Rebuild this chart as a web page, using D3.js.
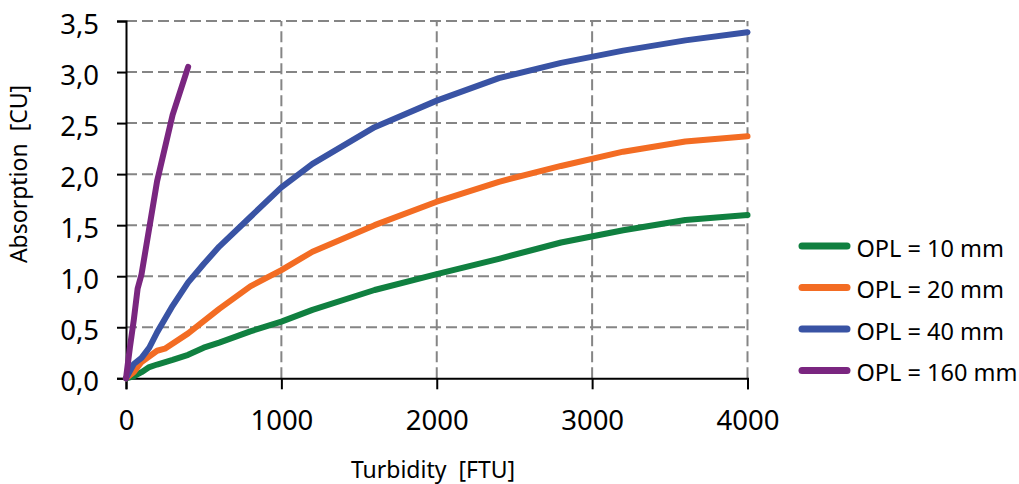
<!DOCTYPE html>
<html>
<head>
<meta charset="utf-8">
<script src="https://cdn.jsdelivr.net/npm/d3@7"></script>
<style>
  body { margin: 0; background: #fff; }
  svg { display: block; }
</style>
</head>
<body>
<div id="chart"></div>
<script>
var fontFamily = "'Noto Sans', 'DejaVu Sans', sans-serif";
var gridColor = "#858585";

// turbidity [FTU] / absorption [CU]
var opl10x = [0, 50, 100, 150, 200, 300, 400, 500, 600, 800, 1000, 1200, 1600, 2000, 2400, 2800, 3200, 3600, 4000];
var opl10y = [0, 0.02, 0.06, 0.11, 0.135, 0.18, 0.23, 0.30, 0.35, 0.46, 0.555, 0.67, 0.865, 1.02, 1.17, 1.33, 1.45, 1.55, 1.60];

var opl20x = [0, 50, 100, 200, 250, 400, 600, 800, 1000, 1200, 1600, 2000, 2400, 2800, 3200, 3600, 4000];
var opl20y = [0, 0.06, 0.16, 0.27, 0.29, 0.44, 0.68, 0.90, 1.06, 1.24, 1.50, 1.73, 1.925, 2.08, 2.22, 2.32, 2.37];

var opl40x = [0, 50, 100, 150, 200, 300, 400, 500, 600, 800, 1000, 1200, 1600, 2000, 2400, 2800, 3200, 3600, 4000];
var opl40y = [0, 0.14, 0.20, 0.30, 0.45, 0.71, 0.94, 1.12, 1.29, 1.58, 1.87, 2.10, 2.46, 2.72, 2.94, 3.09, 3.21, 3.31, 3.39];

var opl160x = [0, 25, 50, 75, 100, 200, 300, 400];
var opl160y = [0, 0.30, 0.57, 0.88, 1.02, 1.93, 2.58, 3.05];

var seriesNames = ["OPL = 10 mm", "OPL = 20 mm", "OPL = 40 mm", "OPL = 160 mm"];
var seriesColors = ["#108040", "#f36c23", "#3953a4", "#7a2680"];

var xTicks = [0, 1000, 2000, 3000, 4000];
var yTicks = [0, 0.5, 1, 1.5, 2, 2.5, 3, 3.5];

var width = 1019, height = 484;
var plotLeft = 126, plotRight = 747.5, plotTop = 21, plotBottom = 378.3;

var svg = d3.select("#chart").append("svg")
  .attr("width", width)
  .attr("height", height);

var x = d3.scaleLinear().domain([0, 4000]).range([plotLeft, plotRight]);
var y = d3.scaleLinear().domain([0, 3.5]).range([plotBottom, plotTop]);

function zip(xs, ys) {
  return xs.map(function(v, i) { return [v, ys[i]]; });
}
var series = [zip(opl10x, opl10y), zip(opl20x, opl20y), zip(opl40x, opl40y), zip(opl160x, opl160y)];

function textAttr(selection, size) {
  selection
    .attr("font-family", fontFamily)
    .attr("font-size", size)
    .attr("fill", "#000");
}

function gridAttr(selection) {
  selection
    .attr("stroke", gridColor)
    .attr("stroke-width", 2)
    .attr("stroke-dasharray", "11,5");
}

// grid lines
svg.append("g").selectAll("line.h")
  .data(yTicks.filter(function(t) { return t > 0; }))
  .enter().append("line")
  .attr("class", "h")
  .attr("x1", plotLeft).attr("x2", plotRight)
  .attr("y1", d => y(d)).attr("y2", d => y(d))
  .call(gridAttr);

svg.append("g").selectAll("line.v")
  .data(xTicks.filter(function(t) { return t > 0; }))
  .enter().append("line")
  .attr("class", "v")
  .attr("y1", plotBottom).attr("y2", plotTop)
  .attr("x1", d => x(d)).attr("x2", d => x(d))
  .call(gridAttr);

// axes
var xAxis = svg.append("g")
  .attr("transform", "translate(0," + plotBottom + ")")
  .call(d3.axisBottom(x).tickValues(xTicks).tickSize(11).tickPadding(21).tickFormat(d3.format("d")));
var yAxis = svg.append("g")
  .attr("transform", "translate(" + plotLeft + ",0)")
  .call(d3.axisLeft(y).tickValues(yTicks).tickSize(9).tickPadding(18)
    .tickFormat(function(d) { return d.toFixed(1).replace(".", ","); }));

[xAxis, yAxis].forEach(function(ax) {
  ax.select(".domain").attr("stroke", "#000").attr("stroke-width", 2);
  ax.selectAll(".tick line").attr("stroke", "#000").attr("stroke-width", 2);
  ax.selectAll(".tick text").call(textAttr, 27.5);
});
xAxis.selectAll(".tick text").attr("dy", "0.71em");
yAxis.selectAll(".tick text").attr("dy", "0.45em");

// series lines
var line = d3.line()
  .x(d => x(d[0]))
  .y(d => y(d[1]));

svg.append("g").selectAll("path")
  .data(series)
  .enter().append("path")
  .attr("d", line)
  .attr("fill", "none")
  .attr("stroke", (d, i) => seriesColors[i])
  .attr("stroke-width", 6)
  .attr("stroke-linejoin", "round")
  .attr("stroke-linecap", "round");

// axis titles
svg.append("text")
  .attr("x", 433).attr("y", 478)
  .attr("text-anchor", "middle")
  .attr("xml:space", "preserve")
  .text("Turbidity  [FTU]")
  .call(textAttr, 23);

svg.append("text")
  .attr("transform", "translate(27,174) rotate(-90)")
  .attr("text-anchor", "middle")
  .attr("xml:space", "preserve")
  .text("Absorption  [CU]")
  .call(textAttr, 23);

// legend
var legend = svg.append("g").selectAll("g")
  .data(seriesNames)
  .enter().append("g")
  .attr("transform", (d, i) => "translate(0," + (246 + i * 41.5) + ")");

legend.append("line")
  .attr("x1", 802).attr("x2", 847)
  .attr("stroke", (d, i) => seriesColors[i])
  .attr("stroke-width", 7)
  .attr("stroke-linecap", "round");

legend.append("text")
  .attr("x", 856.5)
  .attr("y", 10.5)
  .text(d => d)
  .call(textAttr, 23.5);
</script>
</body>
</html>
